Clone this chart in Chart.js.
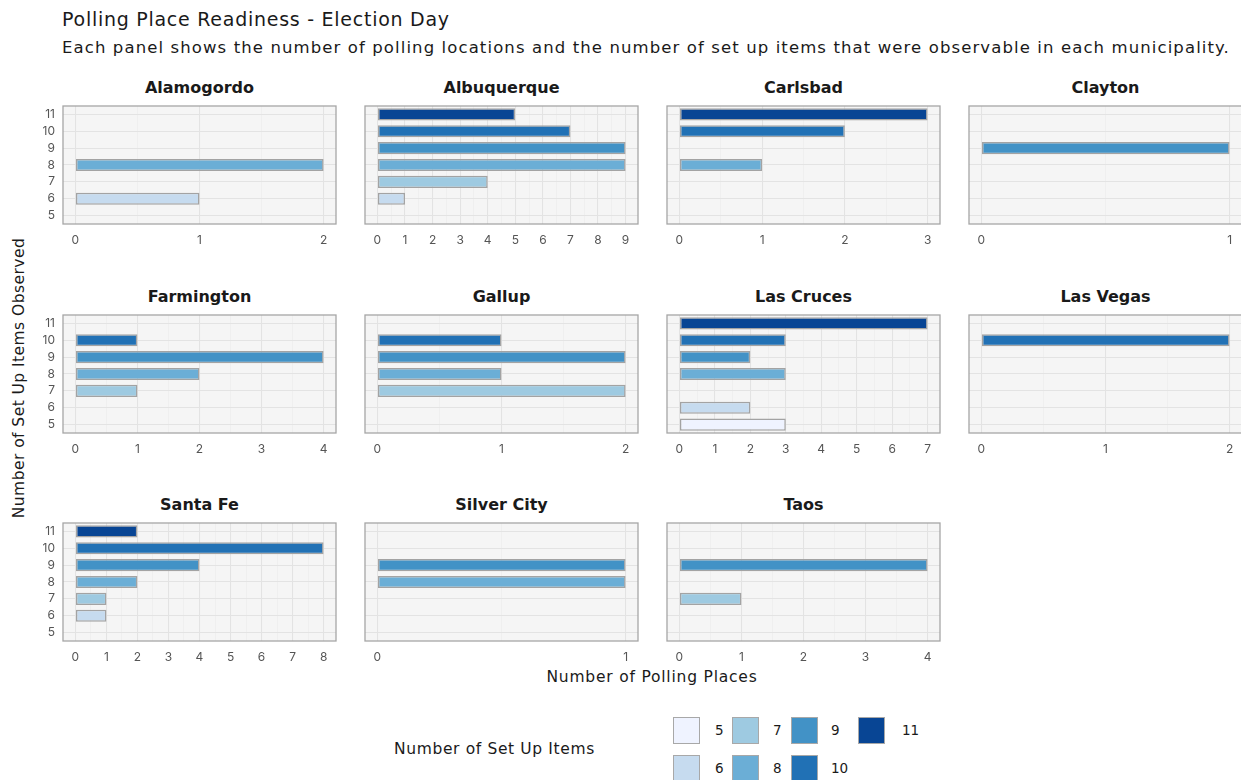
<!DOCTYPE html>
<html><head><meta charset="utf-8">
<script src="https://cdn.jsdelivr.net/npm/chart.js@4/dist/chart.umd.min.js"></script>
<style>
body{margin:0;background:#fff;font-family:"DejaVu Sans",Inter,sans-serif;}
#root{position:relative;width:1241px;height:780px;overflow:hidden;background:#fff;}
.t{position:absolute;white-space:nowrap;color:#1a1a1a;line-height:1;}
.strip{font-weight:700;font-size:16px;}
.sw{position:absolute;box-sizing:border-box;border:1.5px solid #a8a8a8;}
</style></head><body><div id="root"></div>
<script>
// ---- data ----
const municipalities = ['Alamogordo','Albuquerque','Carlsbad','Clayton','Farmington','Gallup','Las Cruces','Las Vegas','Santa Fe','Silver City','Taos'];
const setUpItems = ['11','10','9','8','7','6','5'];
const itemColors = ['#084594','#2171B5','#4292C6','#6BAED6','#9ECAE1','#C6DBEF','#EFF3FF'];
// polling places per set-up-item count (order: 11,10,9,8,7,6,5)
const alamogordo  = [null,null,null,2,null,1,null];
const albuquerque = [5,7,9,9,4,1,null];
const carlsbad    = [3,2,null,1,null,null,null];
const clayton     = [null,null,1,null,null,null,null];
const farmington  = [null,1,4,2,1,null,null];
const gallup      = [null,1,2,1,2,null,null];
const lasCruces   = [7,3,2,3,null,2,3];
const lasVegas    = [null,2,null,null,null,null,null];
const santaFe     = [2,8,4,2,1,1,null];
const silverCity  = [null,null,1,1,null,null,null];
const taos        = [null,null,4,null,1,null,null];
const panelData = [alamogordo,albuquerque,carlsbad,clayton,farmington,gallup,lasCruces,lasVegas,santaFe,silverCity,taos];
const legendItems = ['5','6','7','8','9','10','11'];

// ---- layout ----
const root = document.getElementById('root');
const colLefts = [63,365,667,969];
const rowTops = [106,315,523];
const PW = 273, PH = 118;
const L = 34, R = 10, T = 4, B = 30;

function addText(txt, x, y, style, cls){
  const d = document.createElement('div');
  d.className = 't' + (cls ? ' ' + cls : '');
  d.textContent = txt;
  d.style.left = x + 'px'; d.style.top = y + 'px';
  Object.assign(d.style, style || {});
  root.appendChild(d);
  return d;
}
// adjust letter spacing so the text reaches a target width
function fitWidth(el, target){
  const w = el.offsetWidth;
  const n = el.textContent.length;
  el.style.letterSpacing = ((target - w) / n) + 'px';
}

fitWidth(addText('Polling Place Readiness - Election Day', 62, 10, {fontSize:'19px'}), 388);
fitWidth(addText('Each panel shows the number of polling locations and the number of set up items that were observable in each municipality.', 62, 40, {fontSize:'16.5px'}), 1168);
fitWidth(addText('Number of Polling Places', 652, 678, {fontSize:'15.5px', transform:'translate(-50%,-50%)'}), 211);
fitWidth(addText('Number of Set Up Items Observed', 20, 378, {fontSize:'15.5px', transform:'translate(-50%,-50%) rotate(-90deg)'}), 280);

const panelPlugin = {
  id:'panel',
  beforeDraw(c){
    const a=c.chartArea, x=c.ctx; x.save(); x.fillStyle='#f5f5f5';
    x.fillRect(a.left,a.top,a.right-a.left,a.bottom-a.top); x.restore();
  },
  afterDatasetsDraw(c){
    const a=c.chartArea, x=c.ctx; x.save(); x.strokeStyle='#a6a6a6'; x.lineWidth=1.3;
    x.strokeRect(a.left,a.top,a.right-a.left,a.bottom-a.top); x.restore();
  }
};

Chart.defaults.font.family = 'Inter, "Open Sans", sans-serif';

panelData.forEach((vals, i) => {
  const col = i % 4, row = Math.floor(i / 4);
  const left = colLefts[col], top = rowTops[row];
  const st = addText(municipalities[i], left + PW/2, top - 18, {}, 'strip');
  st.style.transform = 'translate(-50%,-50%)';
  const box = document.createElement('div');
  box.style.position='absolute';
  box.style.left=(left-L)+'px'; box.style.top=(top-T)+'px';
  const cv = document.createElement('canvas');
  cv.width = PW+L+R; cv.height = PH+T+B;
  cv.style.width = cv.width+'px'; cv.style.height = cv.height+'px';
  box.appendChild(cv); root.appendChild(box);
  const maxV = Math.max(...vals.filter(v => v !== null));
  const tickVals = [];
  for (let v = 0; v <= maxV + 1e-9; v += 0.5) tickVals.push(v);
  new Chart(cv, {
    type:'bar',
    data:{labels:setUpItems, datasets:[{data:vals, backgroundColor:itemColors, borderColor:'#a3a3a3', borderWidth:1.5, borderSkipped:false, barPercentage:0.72, categoryPercentage:1}]},
    options:{
      indexAxis:'y', responsive:false, animation:false, devicePixelRatio:1,
      layout:{padding:{left:0,top:T,right:R,bottom:0}},
      plugins:{legend:{display:false}, tooltip:{enabled:false}},
      scales:{
        x:{type:'linear', min:-0.05*maxV, max:1.05*maxV,
          afterBuildTicks:s=>{ s.ticks = tickVals.map(v=>({value:v})); },
          afterFit:s=>{ s.height = B; s.paddingLeft = 0; s.paddingRight = 0; },
          border:{display:false},
          grid:{drawTicks:false,
            color:ctx=> (ctx.tick && Number.isInteger(ctx.tick.value)) ? '#e3e3e3' : '#ececec',
            lineWidth:ctx=> (ctx.tick && Number.isInteger(ctx.tick.value)) ? 1.1 : 0.7},
          ticks:{autoSkip:false, maxRotation:0, padding:9, color:'#555', font:{size:12},
            callback:v=> Number.isInteger(v) ? String(v) : ''}
        },
        y:{type:'category', offset:true,
          afterFit:s=>{ s.width = L; s.paddingTop = 0; s.paddingBottom = 0; },
          border:{display:false},
          grid:{offset:false, drawTicks:false, color:'#e3e3e3', lineWidth:1.1},
          ticks:{display:col===0, padding:8, color:'#555', font:{size:12}, autoSkip:false}
        }
      }
    },
    plugins:[panelPlugin]
  });
});

// legend
fitWidth(addText('Number of Set Up Items', 394, 750, {fontSize:'15.5px', transform:'translateY(-50%)'}), 201);
const legCols = [673,732,791,858];
const legRows = [717,755];
const labelOff = [42,41,40,44];
legendItems.forEach((lab, k) => {
  const c = Math.floor(k/2), r = k % 2;
  const ci = setUpItems.indexOf(lab);
  const sw = document.createElement('div');
  sw.className='sw';
  sw.style.left=legCols[c]+'px'; sw.style.top=legRows[r]+'px';
  sw.style.width='27px'; sw.style.height='27px';
  sw.style.background=itemColors[ci];
  root.appendChild(sw);
  addText(lab, legCols[c]+labelOff[c], legRows[r]+13.5, {fontSize:'13.5px', transform:'translateY(-50%)'});
});
</script></body></html>
